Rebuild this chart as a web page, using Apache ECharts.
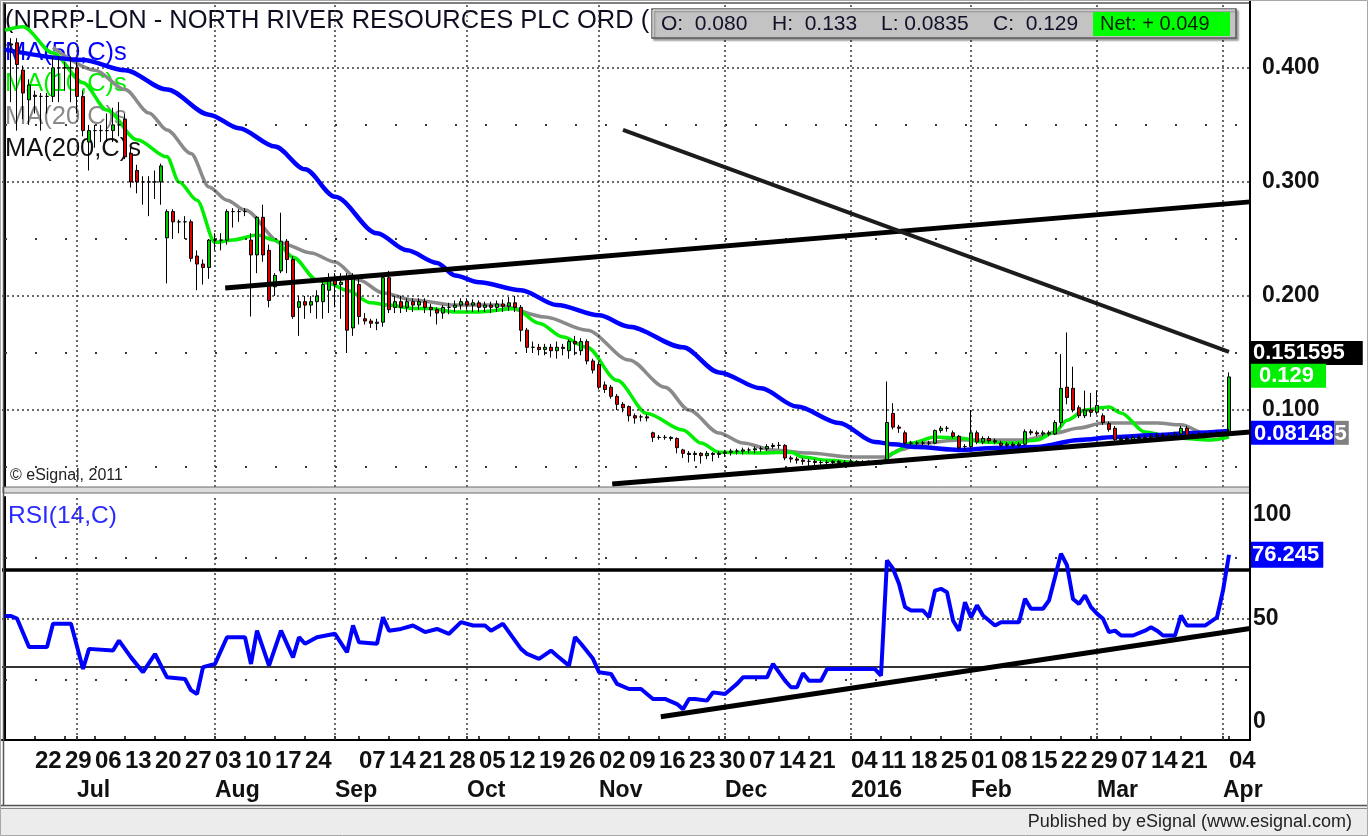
<!DOCTYPE html>
<html><head><meta charset="utf-8">
<script src="https://cdn.jsdelivr.net/npm/echarts@6/dist/echarts.min.js"></script>
<style>html,body{margin:0;padding:0;background:#fff}#c{width:1368px;height:836px}</style>
</head><body><div id="c"></div>
<script>
// ---------------- DATA ----------------
const startDate = '2015-06-15';
const holidays = ['2015-08-31','2015-12-25','2015-12-28','2016-01-01','2016-03-25','2016-03-28'];
const tradingDays = 205;
const blankDays = 3;
const monthNames = ['2016','Feb','Mar','Apr','May','Jun','Jul','Aug','Sep','Oct','Nov','Dec'];

const opens = [
.420,.421,.422,.398,.372,.376,.375,.375,.375,.400,
.400,.400,.400,.375,.335,.345,.345,.345,.345,.350,
.355,.325,.310,.300,.300,.300,.300,.251,.274,.265,
.265,.265,.235,.228,.225,.249,.249,.249,.274,.274,
.274,.249,.236,.269,.240,.208,.222,.248,.232,.190,
.195,.192,.195,.195,.205,.215,.210,.215,.172,.210,
.180,.178,.176,.177,.216,.190,.195,.190,.195,.192,
.195,.190,.188,.185,.190,.190,.192,.195,.192,.194,
.190,.192,.190,.193,.191,.194,.190,.170,.155,.155,
.153,.155,.152,.155,.152,.160,.152,.160,.143,.140,
.122,.120,.112,.105,.103,.095,.094,.094,.080,.076,
.076,.076,.075,.065,.062,.061,.062,.060,.062,.061,
.062,.063,.064,.064,.065,.065,.066,.066,.068,.069,
.069,.058,.057,.056,.055,.055,.054,.054,.054,.055,
.054,.054,.055,.054,.054,.055,.054,.054,.097,.085,
.080,.071,.071,.071,.071,.071,.082,.084,.080,.077,
.068,.068,.080,.072,.075,.073,.071,.069,.070,.069,
.070,.081,.080,.079,.080,.079,.089,.120,.119,.102,
.095,.100,.098,.095,.088,.084,.074,.075,.074,.076,
.075,.076,.077,.078,.077,.078,.079,.084,.077,.078,
.079,.078,.079,.080,.080];
const closes = [
.420,.420,.403,.378,.385,.375,.375,.375,.400,.400,
.400,.400,.375,.345,.345,.345,.345,.345,.350,.350,
.322,.300,.300,.300,.300,.300,.314,.274,.265,.265,
.265,.233,.228,.225,.249,.249,.249,.274,.274,.274,
.274,.236,.269,.236,.196,.218,.248,.232,.182,.195,
.192,.195,.200,.210,.215,.210,.212,.170,.216,.182,
.178,.176,.177,.216,.188,.195,.190,.195,.192,.195,
.190,.188,.185,.190,.190,.192,.195,.192,.194,.190,
.192,.190,.193,.191,.194,.190,.170,.155,.155,.153,
.155,.152,.155,.154,.160,.158,.160,.143,.135,.120,
.118,.112,.105,.102,.095,.093,.094,.093,.076,.076,
.076,.075,.067,.062,.061,.062,.060,.062,.061,.062,
.063,.064,.064,.065,.065,.066,.066,.068,.069,.069,
.058,.057,.056,.055,.055,.054,.054,.054,.055,.054,
.054,.055,.054,.054,.055,.054,.054,.089,.085,.084,
.071,.071,.071,.071,.071,.082,.084,.084,.077,.067,
.068,.080,.072,.075,.073,.072,.069,.070,.069,.070,
.081,.080,.079,.080,.079,.089,.119,.111,.100,.095,
.100,.098,.104,.089,.083,.074,.075,.074,.076,.075,
.076,.077,.078,.077,.078,.079,.084,.077,.078,.079,
.078,.079,.080,.080,.129];
const lows = [
.395,.370,.345,.355,.350,.360,.345,.360,.370,.370,
.380,.370,.360,.340,.310,.330,.335,.335,.335,.340,
.320,.295,.290,.280,.270,.285,.280,.211,.250,.255,
.250,.230,.205,.210,.215,.240,.240,.245,.260,.265,
.270,.182,.220,.230,.190,.200,.220,.220,.180,.165,
.180,.185,.180,.180,.185,.190,.180,.150,.165,.175,
.175,.172,.170,.173,.185,.185,.185,.186,.186,.188,
.185,.182,.175,.180,.184,.186,.188,.188,.186,.186,
.186,.185,.186,.186,.187,.186,.160,.150,.150,.148,
.148,.146,.145,.148,.145,.148,.148,.140,.132,.118,
.115,.110,.100,.098,.090,.088,.090,.090,.072,.074,
.074,.073,.062,.058,.054,.055,.053,.057,.055,.058,
.059,.060,.061,.061,.062,.062,.063,.064,.066,.066,
.056,.054,.053,.052,.050,.051,.051,.052,.052,.052,
.052,.052,.052,.052,.052,.052,.052,.053,.083,.080,
.069,.069,.069,.069,.069,.070,.080,.081,.075,.065,
.065,.066,.070,.070,.071,.070,.067,.067,.067,.067,
.069,.078,.077,.077,.077,.078,.085,.105,.098,.093,
.093,.094,.096,.087,.081,.072,.072,.072,.072,.073,
.073,.074,.075,.075,.075,.076,.077,.075,.075,.076,
.076,.076,.077,.078,.0835];
const highs = [
.428,.426,.426,.402,.390,.380,.378,.378,.410,.410,
.405,.410,.405,.380,.350,.350,.350,.360,.365,.370,
.360,.330,.315,.305,.305,.310,.316,.276,.276,.267,
.270,.267,.240,.232,.250,.255,.255,.276,.277,.276,
.277,.255,.270,.280,.245,.220,.273,.250,.235,.200,
.200,.200,.205,.215,.220,.220,.220,.220,.220,.215,
.185,.180,.180,.220,.222,.200,.200,.198,.198,.198,
.198,.193,.190,.192,.194,.196,.198,.198,.197,.196,
.195,.195,.196,.197,.199,.200,.192,.172,.160,.158,
.158,.158,.160,.158,.162,.165,.163,.162,.145,.142,
.125,.122,.114,.107,.104,.097,.096,.096,.081,.078,
.078,.077,.076,.066,.064,.064,.063,.064,.063,.064,
.065,.066,.066,.067,.067,.068,.068,.070,.071,.072,
.070,.060,.059,.058,.057,.057,.056,.056,.056,.056,
.056,.057,.056,.056,.056,.056,.056,.125,.106,.087,
.082,.073,.073,.073,.073,.083,.086,.086,.082,.078,
.070,.100,.082,.077,.077,.075,.073,.072,.072,.072,
.083,.083,.082,.082,.082,.091,.149,.168,.138,.104,
.117,.115,.117,.097,.090,.086,.077,.077,.078,.078,
.078,.079,.080,.080,.080,.081,.086,.086,.080,.081,
.081,.081,.082,.082,.133];

// moving averages (bar index, value)
const ma50Idx = [0,13,20,27,34,39,45,50,55,62,67,72,75,79,86,92,99,104,113,119,126,132,139,145,148,152,159,165,172,179,185,192,198,204];
const ma50Val = [.416,.407,.398,.381,.359,.347,.331,.311,.287,.255,.240,.229,.218,.212,.205,.192,.183,.173,.155,.133,.119,.103,.0886,.072,.070,.0675,.065,.0667,.0675,.0737,.0763,.078,.0798,.0815];
const ma10Idx = [0,3,8,13,17,22,27,29,32,35,38,42,45,48,52,54,57,61,64,68,71,75,79,85,89,93,97,102,107,113,116,119,126,131,133,137,143,146,148,151,155,159,163,168,172,175,177,180,184,186,190,195,201,204];
const ma10Val = [.433,.436,.413,.387,.363,.337,.322,.300,.284,.247,.249,.2535,.249,.234,.214,.211,.205,.194,.192,.189,.189,.186,.186,.189,.176,.164,.155,.126,.097,.0825,.071,.063,.0623,.063,.0588,.056,.0535,.0535,.0623,.071,.0763,.0754,.072,.071,.0737,.0807,.091,.100,.1026,.0974,.0807,.0754,.0737,.0763];
const ma20Idx = [8,15,20,24,27,31,34,37,40,46,51,55,59,63,68,75,82,90,97,104,110,114,119,123,128,134,141,147,149,153,159,165,170,175,179,183,186,192,196,200,204];
const ma20Val = [.418,.398,.381,.3605,.3456,.325,.2956,.284,.2754,.2465,.2377,.2298,.214,.2026,.1965,.192,.192,.1816,.170,.1439,.120,.100,.0798,.071,.065,.0623,.0588,.0588,.065,.071,.0737,.0737,.0737,.0798,.0842,.0886,.0886,.0886,.087,.0798,.0798];

// RSI(14) (bar index, value)
const rsiIdx = [0,1,2,4,7,8,11,13,14,18,19,21,23,25,27,30,31,32,33,35,37,40,41,42,44,46,48,49,50,52,55,57,58,59,62,63,64,66,68,70,72,74,76,78,80,81,83,86,87,89,91,92,94,95,96,98,99,101,102,104,106,108,110,112,113,114,115,117,118,120,121,122,123,127,128,130,131,132,133,134,136,137,145,146,147,148,149,150,151,153,154,155,156,157,158,159,160,161,162,163,165,166,169,170,171,173,174,175,176,177,178,179,180,181,182,183,184,185,186,188,190,191,192,193,195,196,197,200,202,203,204];
const rsiVal = [51,51,50,38.3,38.3,47.8,47.8,29.2,37.5,36.8,40.9,34,27.9,35.4,25.8,25.1,20.5,18.9,30,31.3,42.3,42.3,31.3,45,30.6,45,34,42.3,39.6,42.3,43.7,36.1,47.1,40.2,39.6,50.5,45,45.7,47.1,44.4,45.7,43.7,48.5,47.1,47.1,45,47.8,37.5,35.4,33.4,36.8,34.7,30.6,42.3,39.6,33.4,27.9,27.2,23.1,21,21,16.9,16.9,14.8,12.7,16.9,16.9,16.2,19.6,18.9,21,23.1,25.8,25.8,31.3,24.4,21.7,21.7,27.5,24.4,24.4,29.2,29.2,26.5,73.9,70.5,64.3,54.7,53.3,53.3,50.5,61.5,62.2,60.8,49.2,45,56.7,50.5,55.4,51.2,47.1,48.5,48.5,58.1,54,54,57.4,67,76.7,71.9,58,56,59.5,54.7,52,49.9,44.4,45,43,43,45,46.4,45,43,43,51.2,47.1,47.1,50.5,61.5,76.245];

// trendlines: [startIdx, startVal, endIdx, endVal]
const trendUpper = [36.7, .207, 207.5, .2825];
const trendFalling = [103, .3456, 204, .1509];
const trendSupport = [101.2, .0351, 207.5, .0807];
const rsiTrend = [109.3, 9.6, 207.5, 45.9];

const priceTicks = [0.1, 0.2, 0.3, 0.4];
const priceMinorTicks = [0.05, 0.15, 0.25, 0.35];
const rsiTicks = [0, 50, 100];
const rsiMinorTicks = [25, 75];
const rsiBands = [30, 70];
const fallingTag = 0.151595;
const ma50TagText = ['0.08148', '5'];

// ---------------- BUILD ----------------
const dates = (function () {
  const out = []; let t = Date.parse(startDate + 'T00:00:00Z');
  while (out.length < tradingDays + blankDays) {
    const d = new Date(t); const iso = d.toISOString().slice(0, 10); const dow = d.getUTCDay();
    if (dow !== 0 && dow !== 6 && holidays.indexOf(iso) < 0) out.push(iso);
    t += 86400000;
  }
  return out;
})();
const dObj = dates.map(s => new Date(s + 'T00:00:00Z'));
const isMonday = k => k > 0 && dObj[k].getUTCDay() === 1;
const isMonthStart = k => k > 0 && dObj[k].getUTCMonth() !== dObj[k - 1].getUTCMonth();
const monthStarts = dates.map((d, k) => k).filter(isMonthStart);

const ohlc = opens.map((o, k) => [o, closes[k], lows[k], highs[k]]);
const pairs = (xs, ys) => xs.map((x, j) => [x, ys[j]]);
const seg = a => [[a[0], a[1]], [a[2], a[3]]];
const last = tradingDays - 1;
const fmt3 = v => { const s = String(v); const d = (s.split('.')[1] || '').length; return d < 3 ? v.toFixed(3) : s; };

const FONT = '"Liberation Sans", Arial, Helvetica, sans-serif';
const XMIN = -0.5, XMAX = dates.length - 0.5;

const dense = { type: [2, 3], color: '#3a3a3a', width: 1.5 };
const sparse = { type: [2, 28], dashOffset: 27, color: '#3a3a3a', width: 2 };
const hidden = { width: 0, color: 'rgba(0,0,0,0)' };
const tagLabel = (text, bg, extra) => Object.assign({ show: true, position: 'end', distance: 1, formatter: text, backgroundColor: bg, color: '#fff', fontSize: 22, fontWeight: 'bold', fontFamily: FONT, padding: [2, 4, 1, 3], opacity: 1 }, extra || {});

const chart = echarts.init(document.getElementById('c'), null, { renderer: 'canvas' });
const option = {
  animation: false,
  backgroundColor: '#ffffff',
  grid: [
    { left: 2, top: 4, width: 1248, height: 483 },
    { left: 2, top: 497, width: 1248, height: 243 }
  ],
  xAxis: [
    { type: 'category', gridIndex: 0, data: dates, boundaryGap: true, show: false },
    { type: 'value', gridIndex: 0, min: XMIN, max: XMAX, show: false },
    { type: 'value', gridIndex: 1, min: XMIN, max: XMAX, show: false },
    { type: 'category', gridIndex: 1, data: dates, boundaryGap: true, position: 'bottom',
      axisLine: { show: true, lineStyle: { color: '#000', width: 2 } },
      axisTick: { show: true, inside: true, length: 4, alignWithLabel: true, interval: k => isMonday(k) || isMonthStart(k), lineStyle: { color: '#000', width: 1.5 } },
      axisLabel: { interval: k => isMonday(k), formatter: v => v.slice(8, 10), align: 'left', margin: 9, fontSize: 24, fontWeight: 'bold', color: '#111', fontFamily: FONT },
      splitLine: { show: false } },
    { type: 'category', gridIndex: 1, data: dates, boundaryGap: true, position: 'bottom', offset: 30,
      axisLine: { show: false }, axisTick: { show: false },
      axisLabel: { interval: k => isMonthStart(k), formatter: v => monthNames[Number(v.slice(5, 7)) - 1], align: 'left', margin: 9, fontSize: 23, fontWeight: 'bold', color: '#111', fontFamily: FONT },
      splitLine: { show: false } }
  ],
  yAxis: [
    { type: 'value', gridIndex: 0, position: 'right', min: 0.0325, max: 0.456, splitNumber: 4,
      axisLine: { show: true, lineStyle: { color: '#000', width: 2 } }, axisTick: { show: false }, splitLine: { show: false },
      axisLabel: { customValues: priceTicks, margin: 12,
        formatter: v => Math.abs(v * 10 - Math.round(v * 10)) < 1e-6 ? v.toFixed(3) : '',
        fontSize: 23, fontWeight: 'bold', color: '#111', fontFamily: FONT } },
    { type: 'value', gridIndex: 1, position: 'right', min: 0, max: 100, interval: 50,
      axisLine: { show: true, lineStyle: { color: '#000', width: 2 } }, axisTick: { show: false }, splitLine: { show: false },
      axisLabel: { margin: 3, color: '#111', fontSize: 23, fontWeight: 'bold', fontFamily: FONT,
        formatter: v => v === 100 ? '{t|100}' : (v === 0 ? '{b|0}' : '{m|' + v + '}'),
        rich: { t: { padding: [36, 0, 0, 0], fontSize: 23, fontWeight: 'bold', fontFamily: FONT, color: '#111' },
                b: { padding: [0, 0, 36, 0], fontSize: 23, fontWeight: 'bold', fontFamily: FONT, color: '#111' },
                m: { fontSize: 23, fontWeight: 'bold', fontFamily: FONT, color: '#111' } } } }
  ],
  series: [
    { type: 'line', name: 'grid0', xAxisIndex: 1, yAxisIndex: 0, data: [], z: 1, silent: true,
      markLine: { silent: true, symbol: ['none', 'none'], animation: false, label: { show: false },
        data: [].concat(
          priceTicks.map(v => ({ yAxis: v, lineStyle: dense })),
          priceMinorTicks.map(v => ({ yAxis: v, lineStyle: sparse })),
          monthStarts.map(k => ({ xAxis: k, lineStyle: dense }))) } },
    { type: 'line', name: 'MA(20,C)s', xAxisIndex: 1, yAxisIndex: 0, data: pairs(ma20Idx, ma20Val), symbol: 'none', smooth: 0.3, smoothMonotone: 'x', z: 3, lineStyle: { color: '#8a8a8a', width: 3.5 } },
    { type: 'line', name: 'MA(10,C)s', xAxisIndex: 1, yAxisIndex: 0, data: pairs(ma10Idx, ma10Val), symbol: 'none', smooth: 0.3, smoothMonotone: 'x', z: 4, lineStyle: { color: '#00ee00', width: 3.5 } },
    { type: 'line', name: 'MA(50,C)s', xAxisIndex: 1, yAxisIndex: 0, data: pairs(ma50Idx, ma50Val), symbol: 'none', smooth: 0.3, smoothMonotone: 'x', z: 5, lineStyle: { color: '#0000ff', width: 4.5 } },
    { type: 'candlestick', name: 'NRRP', xAxisIndex: 0, yAxisIndex: 0, data: ohlc, barWidth: 4, z: 6,
      itemStyle: { color: '#00c800', color0: '#dd0000', borderColor: '#000', borderColor0: '#000', borderWidth: 1 } },
    { type: 'line', xAxisIndex: 1, yAxisIndex: 0, data: seg(trendUpper), symbol: 'none', z: 7, lineStyle: { color: '#000', width: 5 } },
    { type: 'line', xAxisIndex: 1, yAxisIndex: 0, data: seg(trendFalling), symbol: 'none', z: 7, lineStyle: { color: '#1c1c1c', width: 4 } },
    { type: 'line', xAxisIndex: 1, yAxisIndex: 0, data: seg(trendSupport), symbol: 'none', z: 7, lineStyle: { color: '#000', width: 5 } },
    { type: 'line', name: 'tags0', xAxisIndex: 1, yAxisIndex: 0, data: [], z: 20, silent: true,
      markLine: { silent: true, symbol: ['none', 'none'], animation: false,
        data: [
          { yAxis: fallingTag, lineStyle: hidden, label: tagLabel(String(fallingTag), '#000', { padding: [2, 18, 0, 2] }) },
          { yAxis: closes[last], lineStyle: hidden, label: tagLabel(fmt3(closes[last]), '#00ee00', { padding: [2, 12, 0, 8] }) },
          { yAxis: ma50Val[ma50Val.length - 1], lineStyle: hidden, label: tagLabel('{a|' + ma50TagText[0] + '}{g|' + ma50TagText[1] + '}', 'transparent', { padding: 0,
              rich: { a: { backgroundColor: '#0000ff', color: '#fff', fontSize: 22, fontWeight: 'bold', fontFamily: FONT, padding: [2, 1, 0, 3] },
                      g: { backgroundColor: '#808080', color: '#fff', fontSize: 22, fontWeight: 'bold', fontFamily: FONT, padding: [2, 2, 0, 0] } } }) }
        ] } },
    { type: 'line', name: 'grid1', xAxisIndex: 2, yAxisIndex: 1, data: [], z: 1, silent: true,
      markLine: { silent: true, symbol: ['none', 'none'], animation: false, label: { show: false },
        data: [].concat(
          [{ yAxis: rsiTicks[1], lineStyle: dense }],
          rsiMinorTicks.map(v => ({ yAxis: v, lineStyle: sparse })),
          monthStarts.map(k => ({ xAxis: k, lineStyle: dense })),
          [{ yAxis: rsiBands[0], lineStyle: { type: 'solid', color: '#333', width: 2 } },
           { yAxis: rsiBands[1], lineStyle: { type: 'solid', color: '#000', width: 3.5 } }]) } },
    { type: 'line', name: 'RSI(14,C)', xAxisIndex: 2, yAxisIndex: 1, data: pairs(rsiIdx, rsiVal), symbol: 'none', z: 5, lineStyle: { color: '#0000ff', width: 4 } },
    { type: 'line', name: 'tags1', xAxisIndex: 2, yAxisIndex: 1, data: [], z: 20, silent: true,
      markLine: { silent: true, symbol: ['none', 'none'], animation: false,
        data: [{ yAxis: rsiVal[rsiVal.length - 1], lineStyle: hidden, label: tagLabel(String(rsiVal[rsiVal.length - 1]), '#0000ff', { padding: [3, 4, 1, 1] }) }] } },
    { type: 'line', xAxisIndex: 2, yAxisIndex: 1, data: seg(rsiTrend), symbol: 'none', z: 7, lineStyle: { color: '#000', width: 5 } }
  ],
  graphic: [
    // texts under the series
    { type: 'text', z: 0, x: 5, y: 21, style: { text: '(NRRP-LON - NORTH RIVER RESOURCES PLC ORD (', fill: '#0e0e22', fontSize: 25.5, fontFamily: FONT, verticalAlign: 'middle' } },
    { type: 'text', z: 0, x: 5, y: 53, style: { text: 'MA(50,C)s', fill: '#0000ff', fontSize: 25.5, fontFamily: FONT, verticalAlign: 'middle' } },
    { type: 'text', z: 0, x: 5, y: 84, style: { text: 'MA(10,C)s', fill: '#00ee00', fontSize: 25.5, fontFamily: FONT, verticalAlign: 'middle' } },
    { type: 'text', z: 0, x: 5, y: 117, style: { text: 'MA(20,C)s', fill: '#8a8a8a', fontSize: 25.5, fontFamily: FONT, verticalAlign: 'middle' } },
    { type: 'text', z: 0, x: 5, y: 149, style: { text: 'MA(200,C)s', fill: '#111', fontSize: 25.5, fontFamily: FONT, verticalAlign: 'middle' } },
    { type: 'text', z: 0, x: 10, y: 476, style: { text: '\u00a9 eSignal, 2011', fill: '#222', fontSize: 16, fontFamily: FONT, verticalAlign: 'middle' } },
    { type: 'text', z: 0, x: 8, y: 516, style: { text: 'RSI(14,C)', fill: '#2a2aff', fontSize: 24.5, fontFamily: FONT, verticalAlign: 'middle' } },
    // frame
    { type: 'rect', z: 50, silent: true, shape: { x: 3, y: 487, width: 1247, height: 6 }, style: { fill: '#dcdcdc', stroke: '#6a6a6a', lineWidth: 1 } },
    { type: 'line', z: 50, silent: true, shape: { x1: 3.5, y1: 2, x2: 3.5, y2: 806 }, style: { stroke: '#555', lineWidth: 1.5 } },
    { type: 'line', z: 50, silent: true, shape: { x1: 3, y1: 3, x2: 1250, y2: 3 }, style: { stroke: '#555', lineWidth: 1.5 } },
    { type: 'line', z: 50, silent: true, shape: { x1: 1250, y1: 0, x2: 1250, y2: 741 }, style: { stroke: '#000', lineWidth: 2 } },
    { type: 'rect', z: 50, silent: true, shape: { x: 0, y: 805, width: 1368, height: 31 }, style: { fill: '#ececec', stroke: null } },
    { type: 'line', z: 50, silent: true, shape: { x1: 0, y1: 805.5, x2: 1368, y2: 805.5 }, style: { stroke: '#555', lineWidth: 1.5 } },
    { type: 'line', z: 50, silent: true, shape: { x1: 0, y1: 808.5, x2: 1368, y2: 808.5 }, style: { stroke: '#888', lineWidth: 1 } },
    { type: 'rect', z: 50, silent: true, shape: { x: 0.5, y: 0.5, width: 1367, height: 835 }, style: { fill: null, stroke: '#a8a8a8', lineWidth: 1 } },
    { type: 'text', z: 51, x: 1352, y: 822, style: { text: 'Published by eSignal (www.esignal.com)', fill: '#222', fontSize: 18, fontFamily: FONT, align: 'right', verticalAlign: 'middle' } },
    // OHLC box
    { type: 'rect', z: 60, silent: true, shape: { x: 652, y: 9, width: 584, height: 29 }, style: { fill: '#c3c3c3', stroke: '#5a5a5a', lineWidth: 1.5, shadowColor: 'rgba(0,0,0,0.35)', shadowOffsetX: 2, shadowOffsetY: 2, shadowBlur: 2 } },
    { type: 'line', z: 61, silent: true, shape: { x1: 653, y1: 10, x2: 1235, y2: 10 }, style: { stroke: '#f4f4f4', lineWidth: 1 } },
    { type: 'line', z: 61, silent: true, shape: { x1: 653, y1: 10, x2: 653, y2: 37 }, style: { stroke: '#f4f4f4', lineWidth: 1 } },
    { type: 'text', z: 62, x: 661, y: 24, style: { text: 'O:  ' + fmt3(opens[last]), fill: '#10102a', fontSize: 21, fontFamily: FONT, verticalAlign: 'middle' } },
    { type: 'text', z: 62, x: 772, y: 24, style: { text: 'H:  ' + fmt3(highs[last]), fill: '#10102a', fontSize: 21, fontFamily: FONT, verticalAlign: 'middle' } },
    { type: 'text', z: 62, x: 881, y: 24, style: { text: 'L: ' + fmt3(lows[last]), fill: '#10102a', fontSize: 21, fontFamily: FONT, verticalAlign: 'middle' } },
    { type: 'text', z: 62, x: 993, y: 24, style: { text: 'C:  ' + fmt3(closes[last]), fill: '#10102a', fontSize: 21, fontFamily: FONT, verticalAlign: 'middle' } },
    { type: 'rect', z: 62, silent: true, shape: { x: 1093, y: 12, width: 137, height: 24 }, style: { fill: '#00ff00' } },
    { type: 'text', z: 63, x: 1100, y: 24, style: { text: 'Net: + ' + (closes[last] - closes[last - 1]).toFixed(3), fill: '#062006', fontSize: 20, fontFamily: FONT, verticalAlign: 'middle' } }
  ]
};
chart.setOption(option);
</script>
</body></html>
